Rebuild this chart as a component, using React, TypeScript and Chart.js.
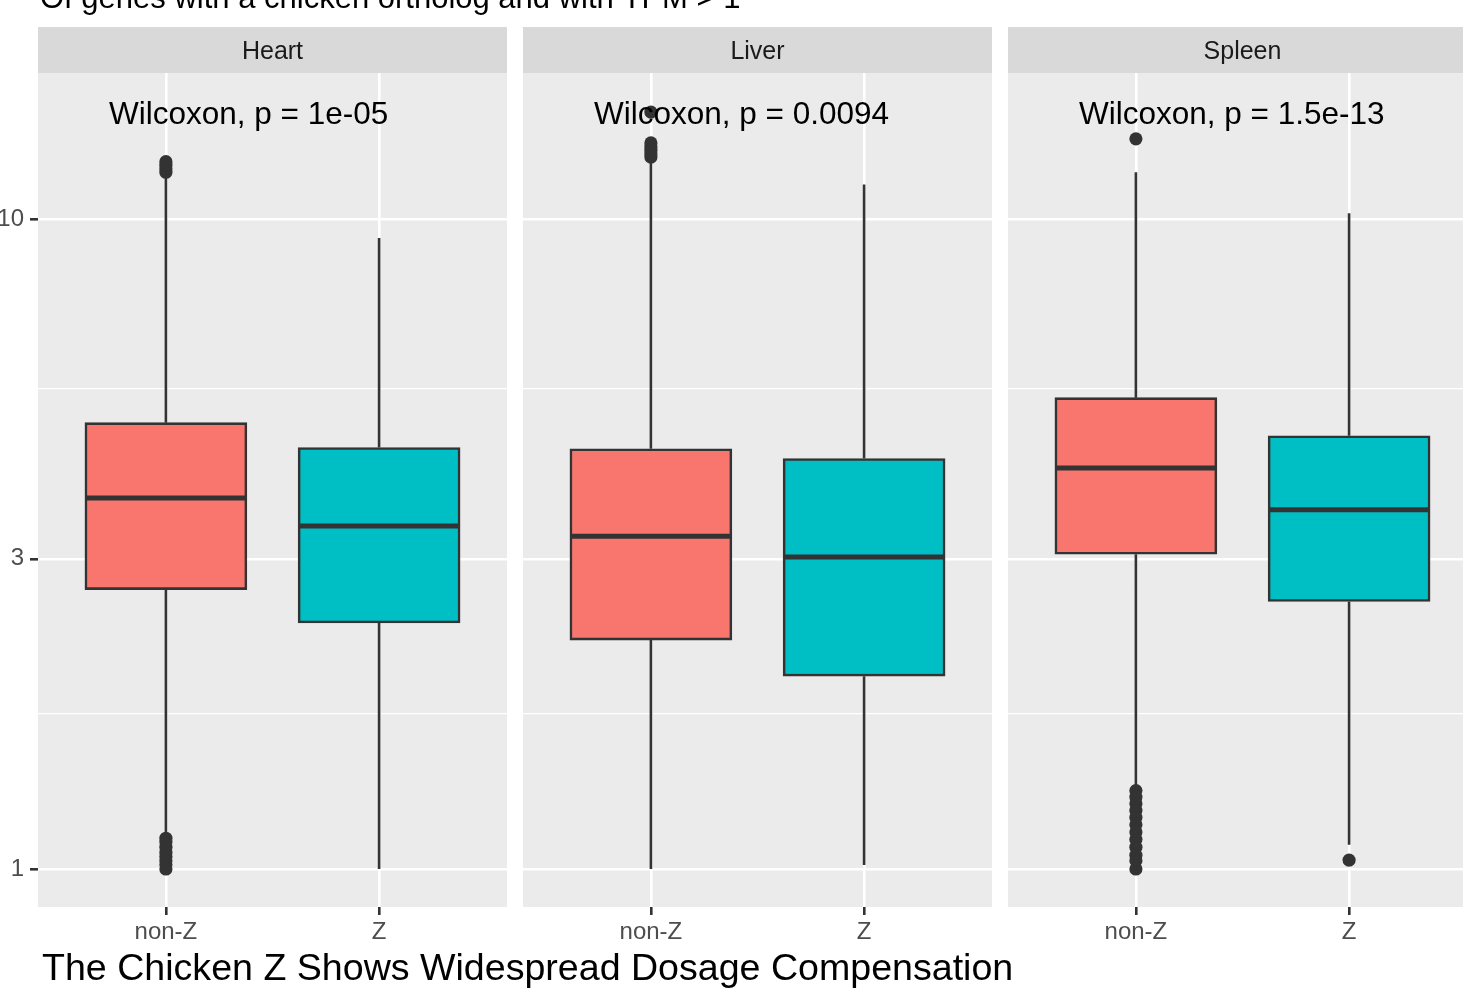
import React, { useEffect, useRef } from 'react';
import { Chart, registerables } from 'chart.js';

Chart.register(...registerables);

// ---------- data ----------
const panels = ['Heart', 'Liver', 'Spleen'];
const groups = ['non-Z', 'Z'];
const pLabels = ['1e-05', '0.0094', '1.5e-13'];

const nonZLow = [1.12, 1.0, 1.34];
const nonZQ1 = [2.69, 2.25, 3.05];
const nonZMedian = [3.72, 3.25, 4.14];
const nonZQ3 = [4.86, 4.43, 5.31];
const nonZHigh = [11.6, 12.2, 11.8];

const zLow = [1.0, 1.014, 1.09];
const zQ1 = [2.39, 1.98, 2.58];
const zMedian = [3.37, 3.02, 3.57];
const zQ3 = [4.45, 4.28, 4.64];
const zHigh = [9.35, 11.3, 10.2];

const nonZOutliers = [
  [11.8, 11.95, 12.1, 12.25, 1.115, 1.1, 1.08, 1.06, 1.045, 1.03, 1.015, 1.0],
  [12.45, 12.6, 12.76, 12.92, 13.09, 14.6],
  [13.28, 1.32, 1.29, 1.26, 1.23, 1.2, 1.17, 1.14, 1.11, 1.08, 1.05, 1.03, 1.0],
];
const zOutliers = [[], [], [1.032]];

const yTickValues = [1, 1.732, 3, 5.477, 10];
const yTickLabels = ['1', '', '3', '', '10'];

const titleText = 'Of genes with a chicken ortholog and with TPM > 1';
const captionText = 'The Chicken Z Shows Widespread Dosage Compensation';

// ---------- layout constants (data units of the x scale) ----------
const PANEL_W = 2.2;
const PANEL_GAP = 0.075;
const GROUP_POS = [0.6, 1.6];
const HALF_BOX = 0.375;
const panelStart = (i: number) => i * (PANEL_W + PANEL_GAP);
const X_MAX = panelStart(2) + PANEL_W;
const Y_MIN = 0.874;
const Y_MAX = 16.77;
const STRIP_TOP = 27;
const FONT = "'Liberation Sans', Arial, Helvetica, sans-serif";

const INK = '#333333';
const FILLS = ['#F8766D', '#00BFC4'];

const stats = [
  { low: nonZLow, q1: nonZQ1, med: nonZMedian, q3: nonZQ3, high: nonZHigh, out: nonZOutliers },
  { low: zLow, q1: zQ1, med: zMedian, q3: zQ3, high: zHigh, out: zOutliers },
];

const xTickValues: number[] = [];
panels.forEach((_, i) => GROUP_POS.forEach((g) => xTickValues.push(panelStart(i) + g)));

const isMajor = (v: number) => yTickLabels[yTickValues.indexOf(v)] !== '';

const facetPlugin = {
  id: 'facets',
  beforeDraw(chart: any) {
    const { ctx, chartArea, scales } = chart;
    const x = scales.x;
    ctx.save();
    ctx.fillStyle = '#FFFFFF';
    ctx.fillRect(0, 0, chart.width, chart.height);
    panels.forEach((_, i) => {
      const l = x.getPixelForValue(panelStart(i));
      const r = x.getPixelForValue(panelStart(i) + PANEL_W);
      ctx.fillStyle = '#EBEBEB';
      ctx.fillRect(l, chartArea.top, r - l, chartArea.bottom - chartArea.top);
      ctx.fillStyle = '#D9D9D9';
      ctx.fillRect(l, STRIP_TOP, r - l, chartArea.top - STRIP_TOP);
    });
    ctx.restore();
  },
  beforeDatasetsDraw(chart: any) {
    const { ctx, chartArea, scales } = chart;
    const x = scales.x;
    ctx.save();
    ctx.fillStyle = '#FFFFFF';
    for (let i = 0; i < panels.length - 1; i++) {
      const l = x.getPixelForValue(panelStart(i) + PANEL_W);
      const r = x.getPixelForValue(panelStart(i + 1));
      ctx.fillRect(l, chartArea.top - 1, r - l, chartArea.bottom - chartArea.top + 2);
    }
    ctx.restore();
  },
  afterDatasetsDraw(chart: any) {
    const { ctx, chartArea, scales } = chart;
    const x = scales.x;
    const y = scales.y;
    ctx.save();
    // strip labels
    ctx.fillStyle = '#1A1A1A';
    ctx.font = `25px ${FONT}`;
    ctx.textAlign = 'center';
    ctx.textBaseline = 'middle';
    panels.forEach((p, i) => {
      const c = x.getPixelForValue(panelStart(i) + PANEL_W / 2);
      ctx.fillText(p, c, (STRIP_TOP + chartArea.top) / 2 + 2);
    });
    // test labels
    ctx.fillStyle = '#000000';
    ctx.font = `31.5px ${FONT}`;
    ctx.textAlign = 'left';
    ctx.textBaseline = 'middle';
    panels.forEach((_, i) => {
      const px = x.getPixelForValue(panelStart(i) + 0.333);
      ctx.fillText(`Wilcoxon, p = ${pLabels[i]}`, px, y.getPixelForValue(14.56) + 2);
    });
    // title (cut by the top edge) and caption
    ctx.textBaseline = 'alphabetic';
    ctx.font = `31px ${FONT}`;
    ctx.fillText(titleText, 40, 8);
    ctx.font = `37.6px ${FONT}`;
    ctx.fillText(captionText, 42, 980);
    ctx.restore();
  },
};

export default function App() {
  const ref = useRef<HTMLCanvasElement>(null);

  useEffect(() => {
    const canvas = ref.current;
    if (!canvas) return;

    const datasets: any[] = [];

    stats.forEach((s, g) => {
      // whiskers
      const wData: any[] = [];
      panels.forEach((_, i) => {
        const cx = panelStart(i) + GROUP_POS[g];
        wData.push({ x: cx, y: s.q3[i] }, { x: cx, y: s.high[i] }, { x: cx, y: null });
        wData.push({ x: cx, y: s.q1[i] }, { x: cx, y: s.low[i] }, { x: cx, y: null });
      });
      datasets.push({
        type: 'line',
        data: wData,
        borderColor: INK,
        borderWidth: 2.6,
        pointRadius: 0,
        spanGaps: false,
        order: 4,
      });
      // boxes
      datasets.push({
        type: 'bar',
        data: panels.map((_, i) => ({ x: panelStart(i) + GROUP_POS[g], y: [s.q1[i], s.q3[i]] })),
        backgroundColor: FILLS[g],
        borderColor: INK,
        borderWidth: 2.6,
        borderSkipped: false,
        barThickness: 162,
        grouped: false,
        order: 3,
      });
      // medians
      const mData: any[] = [];
      panels.forEach((_, i) => {
        const cx = panelStart(i) + GROUP_POS[g];
        mData.push({ x: cx - HALF_BOX, y: s.med[i] }, { x: cx + HALF_BOX, y: s.med[i] }, { x: cx, y: null });
      });
      datasets.push({
        type: 'line',
        data: mData,
        borderColor: INK,
        borderWidth: 5,
        borderCapStyle: 'butt',
        pointRadius: 0,
        spanGaps: false,
        order: 1,
      });
      // outliers
      const oData: any[] = [];
      panels.forEach((_, i) => {
        const cx = panelStart(i) + GROUP_POS[g];
        s.out[i].forEach((v: number) => oData.push({ x: cx, y: v }));
      });
      datasets.push({
        type: 'line',
        data: oData,
        showLine: false,
        pointRadius: 6.6,
        pointBackgroundColor: INK,
        pointBorderWidth: 0,
        pointBorderColor: INK,
        order: 2,
      });
    });

    const chart = new Chart(canvas, {
      type: 'bar',
      data: { datasets },
      options: {
        animation: false,
        responsive: false,
        devicePixelRatio: 1,
        events: [],
        layout: { padding: { top: 73, right: 13, left: 0, bottom: 0 } },
        plugins: {
          legend: { display: false },
          tooltip: { enabled: false },
          title: { display: false },
        },
        scales: {
          x: {
            type: 'linear',
            min: 0,
            max: X_MAX,
            offset: false,
            bounds: 'data',
            afterBuildTicks: (scale: any) => {
              scale.ticks = xTickValues.map((v) => ({ value: v }));
            },
            afterFit: (scale: any) => {
              scale.height = 84;
            },
            ticks: {
              autoSkip: false,
              maxRotation: 0,
              padding: 3,
              color: '#4D4D4D',
              font: { family: FONT, size: 24 },
              callback: (_v: any, idx: number) => groups[idx % groups.length],
            },
            grid: {
              offset: false,
              color: '#FFFFFF',
              lineWidth: 2.6,
              tickColor: INK,
              tickWidth: 2.6,
              tickLength: 8,
            },
            border: { display: false },
          },
          y: {
            type: 'logarithmic',
            min: Y_MIN,
            max: Y_MAX,
            bounds: 'data',
            afterBuildTicks: (scale: any) => {
              scale.ticks = yTickValues.map((v) => ({ value: v, major: isMajor(v) }));
            },
            afterFit: (scale: any) => {
              scale.width = 38;
            },
            ticks: {
              autoSkip: false,
              padding: 6,
              color: '#4D4D4D',
              font: { family: FONT, size: 24 },
              callback: (v: any) => {
                const k = yTickValues.indexOf(Number(v));
                return k >= 0 ? yTickLabels[k] : '';
              },
            },
            grid: {
              color: '#FFFFFF',
              lineWidth: (c: any) => (c.tick && isMajor(c.tick.value) ? 2.6 : 1.3),
              tickColor: (c: any) => (c.tick && isMajor(c.tick.value) ? INK : 'rgba(0,0,0,0)'),
              tickWidth: 2.6,
              tickLength: 8,
            },
            border: { display: false },
          },
        },
      } as any,
      plugins: [facetPlugin],
    });

    return () => chart.destroy();
  }, []);

  return (
    <div
      style={{
        position: 'fixed',
        left: 0,
        top: 0,
        width: 1463,
        height: 991,
        overflow: 'hidden',
        background: '#FFFFFF',
      }}
    >
      <canvas ref={ref} width={1490} height={991} style={{ display: 'block', width: 1490, height: 991 }} />
    </div>
  );
}
